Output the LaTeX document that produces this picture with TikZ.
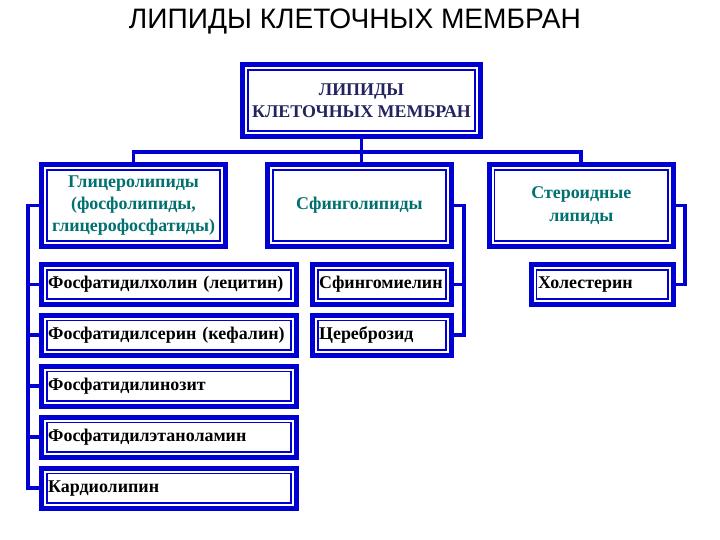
\documentclass[tikz,border=0pt]{standalone}
\usepackage{fontspec}
\setmainfont{Liberation Serif}
\newfontfamily\titlefont{Liberation Sans}
\usetikzlibrary{positioning}

\definecolor{boxblue}{RGB}{0,0,210}
\definecolor{headteal}{RGB}{0,112,112}
\definecolor{topnavy}{RGB}{35,35,95}

\begin{document}
\begin{tikzpicture}[
x=0.03cm, y=-0.03cm,
every node/.style={
align=center,
font=\fontsize{15.3pt}{19pt}\selectfont\bfseries
},
conn/.style={draw=boxblue, line width=3.2pt}
]

% =====================================================
% Styles
% =====================================================

\tikzstyle{framed} =
[rectangle, fill=white,
draw=boxblue, line width=4.2pt,
path picture={\draw[boxblue, line width=1.3pt]
([shift={(0.16cm,0.16cm)}]path picture bounding box.south west) rectangle
([shift={(-0.16cm,-0.16cm)}]path picture bounding box.north east);}]

\tikzstyle{topbox} =
[framed, minimum width=7.14cm, minimum height=2.16cm,
text=topnavy]

\tikzstyle{headbox} =
[framed, minimum width=5.52cm, minimum height=2.46cm,
text=headteal]

\tikzstyle{itembox} =
[framed, minimum height=1.2cm, inner xsep=0.2cm,
align=left, text=black]

\useasboundingbox (0,0) rectangle (720,540);

% =====================================================
% Nodes
% =====================================================

\node (title) [font=\titlefont\fontsize{24pt}{28pt}\selectfont] at (355,21)
{ЛИПИДЫ КЛЕТОЧНЫХ МЕМБРАН};

\node (lipids) [topbox] at (361.5,100.5)
{ЛИПИДЫ\\КЛЕТОЧНЫХ МЕМБРАН};

\node (glycero) [headbox] at (133.5,205.5)
{Глицеролипиды\\(фосфолипиды,\\глицерофосфатиды)};

\node (sphingo) [headbox, right=1.11cm of glycero]
{Сфинголипиды};

\node (steroid) [headbox, right=0.99cm of sphingo]
{Стероидные\\липиды};

\node (pchol) [itembox, text width=7.25cm, below=0.39cm of glycero.south west, anchor=north west]
{Фосфатидилхолин (лецитин)};

\node (pser) [itembox, text width=7.25cm, below=0.18cm of pchol]
{Фосфатидилсерин (кефалин)};

\node (pino) [itembox, text width=7.25cm, below=0.18cm of pser]
{Фосфатидилинозит};

\node (peth) [itembox, text width=7.25cm, below=0.18cm of pino]
{Фосфатидилэтаноламин};

\node (cardio) [itembox, text width=7.25cm, below=0.18cm of peth]
{Кардиолипин};

\node (smyel) [itembox, text width=3.77cm, below=0.39cm of sphingo.south east, anchor=north east]
{Сфингомиелин};

\node (cereb) [itembox, text width=3.77cm, below=0.18cm of smyel]
{Цереброзид};

\node (chol) [itembox, text width=3.86cm, below=0.39cm of steroid.south east, anchor=north east]
{Холестерин};

% =====================================================
% Connectors
% =====================================================

\draw [conn] (lipids.south) -- (lipids.south |- sphingo.north);

\draw [conn] (glycero.north) -- ++(0,-10) -| (steroid.north);

\draw [conn] (glycero.west) -- ++(-11,0) |- (cardio.west);

\foreach \n in {pchol,pser,pino,peth}
\draw [conn] (\n.west) -- ++(-11,0);

\draw [conn] (sphingo.east) -- ++(10,0) |- (cereb.east);

\draw [conn] (smyel.east) -- ++(10,0);

\draw [conn] (steroid.east) -- ++(9,0) |- (chol.east);

\end{tikzpicture}
\end{document}
